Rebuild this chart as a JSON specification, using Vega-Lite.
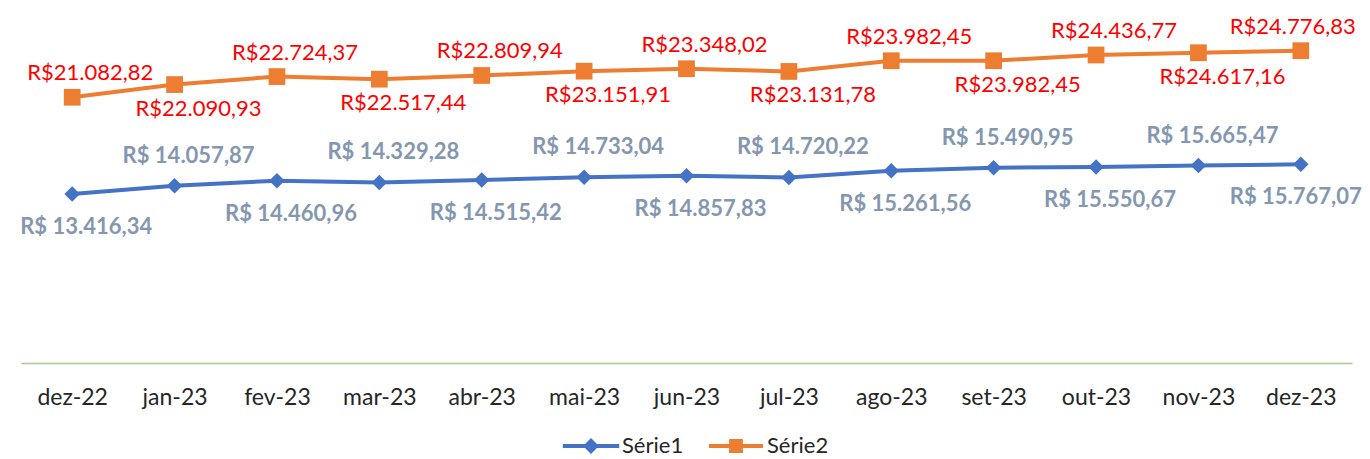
{
  "$schema": "https://vega.github.io/schema/vega-lite/v6.json",
  "width": 1331,
  "height": 363,
  "autosize": {"type": "none"},
  "padding": {"left": 21, "top": 0, "right": 18, "bottom": 96},
  "background": "white",
  "config": {
    "view": {"stroke": null},
    "font": "Lato"
  },
  "data": {
    "values": [
      {"mes": "dez-22", "serie": "Série1", "valor": 13416.34},
      {"mes": "jan-23", "serie": "Série1", "valor": 14057.87},
      {"mes": "fev-23", "serie": "Série1", "valor": 14460.96},
      {"mes": "mar-23", "serie": "Série1", "valor": 14329.28},
      {"mes": "abr-23", "serie": "Série1", "valor": 14515.42},
      {"mes": "mai-23", "serie": "Série1", "valor": 14733.04},
      {"mes": "jun-23", "serie": "Série1", "valor": 14857.83},
      {"mes": "jul-23", "serie": "Série1", "valor": 14720.22},
      {"mes": "ago-23", "serie": "Série1", "valor": 15261.56},
      {"mes": "set-23", "serie": "Série1", "valor": 15490.95},
      {"mes": "out-23", "serie": "Série1", "valor": 15550.67},
      {"mes": "nov-23", "serie": "Série1", "valor": 15665.47},
      {"mes": "dez-23", "serie": "Série1", "valor": 15767.07},
      {"mes": "dez-22", "serie": "Série2", "valor": 21082.82},
      {"mes": "jan-23", "serie": "Série2", "valor": 22090.93},
      {"mes": "fev-23", "serie": "Série2", "valor": 22724.37},
      {"mes": "mar-23", "serie": "Série2", "valor": 22517.44},
      {"mes": "abr-23", "serie": "Série2", "valor": 22809.94},
      {"mes": "mai-23", "serie": "Série2", "valor": 23151.91},
      {"mes": "jun-23", "serie": "Série2", "valor": 23348.02},
      {"mes": "jul-23", "serie": "Série2", "valor": 23131.78},
      {"mes": "ago-23", "serie": "Série2", "valor": 23982.45},
      {"mes": "set-23", "serie": "Série2", "valor": 23982.45},
      {"mes": "out-23", "serie": "Série2", "valor": 24436.77},
      {"mes": "nov-23", "serie": "Série2", "valor": 24617.16},
      {"mes": "dez-23", "serie": "Série2", "valor": 24776.83}
    ]
  },
  "transform": [
    {"window": [{"op": "row_number", "as": "idx"}], "groupby": ["serie"]},
    {"calculate": "(datum.serie == 'Série1' ? 'R$ ' : 'R$') + replace(replace(replace(format(datum.valor, ',.2f'), ',', '#'), '.', ','), '#', '.')", "as": "rotulo"}
  ],
  "encoding": {
    "x": {
      "field": "mes",
      "type": "ordinal",
      "sort": null,
      "scale": {"type": "point", "padding": 0.5},
      "axis": {
        "title": null,
        "domainColor": "#A4C98C",
        "domainWidth": 1.5,
        "ticks": false,
        "labelAngle": 0,
        "labelFont": "Lato",
        "labelFontSize": 23,
        "labelColor": "#262626",
        "labelPadding": 23
      }
    },
    "y": {
      "field": "valor",
      "type": "quantitative",
      "scale": {"domain": [0, 28800], "nice": false, "zero": true},
      "axis": null
    }
  },
  "layer": [
    {
      "mark": {"type": "line", "strokeWidth": 4},
      "encoding": {
        "color": {
          "field": "serie",
          "type": "nominal",
          "scale": {"domain": ["Série1", "Série2"], "range": ["#4472C4", "#ED7D31"]},
          "legend": {
            "title": null,
            "orient": "none",
            "direction": "horizontal",
            "legendX": 559,
            "legendY": 435,
            "padding": 0,
            "symbolSize": 144,
            "symbolStrokeWidth": 0,
            "symbolOpacity": 1,
            "labelOffset": 20,
            "columnPadding": 25,
            "labelFont": "Lato",
            "labelFontSize": 22,
            "labelColor": "#262626",
            "encode": {
              "symbols": {
                "update": {
                  "shape": {"signal": "datum.value == 'Série1' ? 'M-4.7,-0.33L4.7,-0.33L4.7,0.33L-4.7,0.33ZM0,-1.33L1.33,0L0,1.33L-1.33,0Z' : 'M-4.5,-0.33L4.5,-0.33L4.5,0.33L-4.5,0.33ZM-1.15,-1.15L1.15,-1.15L1.15,1.15L-1.15,1.15Z'"},
                  "fill": {"signal": "datum.value == 'Série1' ? '#4472C4' : '#ED7D31'"},
                  "fillOpacity": {"value": 1},
                  "strokeWidth": {"value": 0},
                  "opacity": {"value": 1}
                }
              }
            }
          }
        }
      }
    },
    {
      "transform": [{"filter": "datum.serie == 'Série1'"}],
      "mark": {"type": "point", "shape": "diamond", "filled": true, "opacity": 1, "size": 240, "color": "#4472C4"}
    },
    {
      "transform": [{"filter": "datum.serie == 'Série2'"}],
      "mark": {"type": "point", "shape": "square", "filled": true, "opacity": 1, "size": 280, "color": "#ED7D31"}
    },
    {
      "transform": [{"filter": "datum.serie == 'Série1' && datum.idx % 2 == 1"}],
      "mark": {"type": "text", "baseline": "middle", "align": "center", "fontWeight": "bold", "fontSize": 22, "color": "#8497B0", "dy": 33, "dx": {"expr": "datum.idx == 13 ? -5 : 14"}},
      "encoding": {"text": {"field": "rotulo"}}
    },
    {
      "transform": [{"filter": "datum.serie == 'Série1' && datum.idx % 2 == 0"}],
      "mark": {"type": "text", "baseline": "middle", "align": "center", "fontWeight": "bold", "fontSize": 22, "color": "#8497B0", "dy": -30, "dx": 14},
      "encoding": {"text": {"field": "rotulo"}}
    },
    {
      "transform": [{"filter": "datum.serie == 'Série2' && datum.idx % 2 == 1"}],
      "mark": {"type": "text", "baseline": "middle", "align": "center", "fontSize": 22, "color": "#FF0000", "dy": -24, "dx": {"expr": "datum.idx == 13 ? -8 : 18"}},
      "encoding": {"text": {"field": "rotulo"}}
    },
    {
      "transform": [{"filter": "datum.serie == 'Série2' && datum.idx % 2 == 0"}],
      "mark": {"type": "text", "baseline": "middle", "align": "center", "fontSize": 22, "color": "#FF0000", "dy": 24, "dx": 24},
      "encoding": {"text": {"field": "rotulo"}}
    }
  ]
}
